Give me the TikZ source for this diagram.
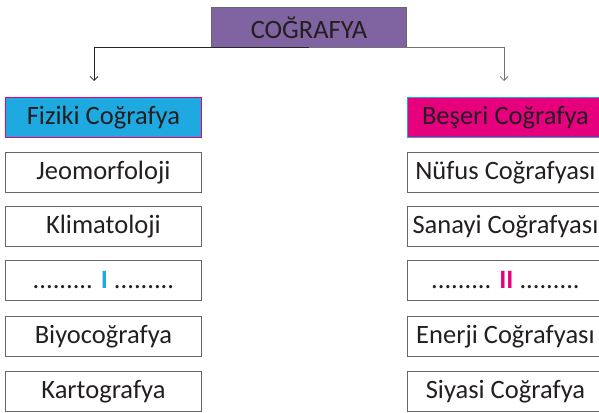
\documentclass[tikz,border=0pt]{standalone}
\usepackage{fontspec}
\setmainfont{Carlito}
\usetikzlibrary{arrows.meta}
\definecolor{purp}{HTML}{8064A2}
\definecolor{cyanb}{HTML}{1FA9E1}
\definecolor{magb}{HTML}{E6007E}
\definecolor{txt}{HTML}{231F20}
\definecolor{bord}{HTML}{666666}
\tikzset{
  box/.style={draw=bord, line width=0.9pt, minimum width=196pt, minimum height=40pt, inner sep=0pt,
    font=\fontsize{26.5}{30}\selectfont, text=txt, anchor=north west},
  conn/.style={line width=0.9pt, -{Straight Barb[length=4pt,width=8pt,line width=0.8pt]}},
}
\begin{document}
\begin{tikzpicture}[x=1pt,y=-1pt]
\useasboundingbox (0,0) rectangle (599,412);
\node[box, fill=purp, minimum width=195pt] (geo) at (211,7) {COĞRAFYA};
\node[box, fill=cyanb, draw=magb] (fiz) at (5,97) {Fiziki Coğrafya};
\node[box, fill=magb, draw=cyanb] (bes) at (407,97) {Beşeri Coğrafya};
\node[box] (l1) at (5,152) {Jeomorfoloji};
\node[box] (l2) at (5,206) {Klimatoloji};
\node[box] (l3) at (5,260) {......... \textbf{\textcolor{cyanb}{I}} .........};
\node[box] (l4) at (5,316) {Biyocoğrafya};
\node[box] (l5) at (5,371) {Kartografya};
\node[box] (r1) at (407,152) {Nüfus Coğrafyası};
\node[box] (r2) at (407,206) {Sanayi Coğrafyası};
\node[box] (r3) at (407,260) {......... \textbf{\textcolor{magb}{II}} .........};
\node[box] (r4) at (407,316) {Enerji Coğrafyası};
\node[box] (r5) at (407,371) {Siyasi Coğrafya};
\coordinate (la) at (94,81);
\coordinate (ra) at (504,81);
\draw[conn, draw=black!85] (geo.south) -| (la);
\draw[conn, draw=black!55] (geo.south) -| (ra);
\end{tikzpicture}
\end{document}
